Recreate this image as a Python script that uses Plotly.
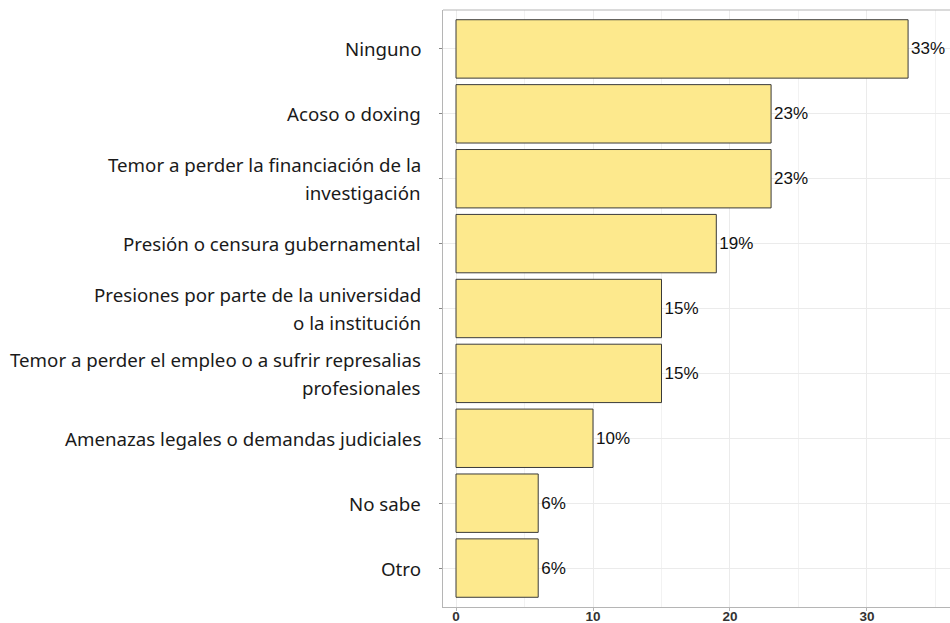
import plotly.graph_objects as go

categories = [
    "Ninguno",
    "Acoso o doxing",
    "Temor a perder la financiación de la investigación",
    "Presión o censura gubernamental",
    "Presiones por parte de la universidad o la institución",
    "Temor a perder el empleo o a sufrir represalias profesionales",
    "Amenazas legales o demandas judiciales",
    "No sabe",
    "Otro",
]
# wrapped display lines for each category label
label_lines = [
    ["Ninguno"],
    ["Acoso o doxing"],
    ["Temor a perder la financiación de la", "investigación"],
    ["Presión o censura gubernamental"],
    ["Presiones por parte de la universidad", "o la institución"],
    ["Temor a perder el empleo o a sufrir represalias", "profesionales"],
    ["Amenazas legales o demandas judiciales"],
    ["No sabe"],
    ["Otro"],
]
values = [33, 23, 23, 19, 15, 15, 10, 6, 6]
labels = [f"{v}%" for v in values]
x_ticks = [0, 10, 20, 30]

fig = go.Figure(
    go.Bar(
        x=values,
        y=categories,
        orientation="h",
        width=0.9,
        marker=dict(color="#FDE98D", line=dict(color="#3a3a3a", width=1)),
        text=labels,
        textposition="outside",
        textfont=dict(family="Liberation Sans", size=17, color="#111"),
        cliponaxis=False,
        hoverinfo="skip",
    )
)

fig.update_layout(
    width=950,
    height=623,
    margin=dict(l=443, r=0, t=10, b=16),
    paper_bgcolor="white",
    plot_bgcolor="white",
    showlegend=False,
    bargap=0.1,
)

fig.update_xaxes(
    range=[-0.95, 36.06],
    tickvals=x_ticks,
    ticktext=[str(t) for t in x_ticks],
    showgrid=True,
    gridcolor="#ebebeb",
    gridwidth=1,
    minor=dict(dtick=5, showgrid=True, gridcolor="#f2f2f2", gridwidth=1),
    zeroline=False,
    showline=True,
    linecolor="#b5b5b5",
    linewidth=1.2,
    ticks="outside",
    ticklen=3,
    tickcolor="#b5b5b5",
    automargin=False,
    ticklabelstandoff=-6,
    tickfont=dict(family="Liberation Sans", size=13.5, color="#333", weight="bold"),
)

fig.update_yaxes(
    categoryorder="array",
    categoryarray=categories,
    range=[8.6, -0.6],
    showgrid=True,
    gridcolor="#ebebeb",
    gridwidth=1,
    zeroline=False,
    showline=True,
    linecolor="#b5b5b5",
    linewidth=1.2,
    ticks="outside",
    ticklen=3,
    tickcolor="#888",
    showticklabels=False,
    automargin=False,
)

LINE_GAP = 28
for cat, lines in zip(categories, label_lines):
    n = len(lines)
    for i, line in enumerate(lines):
        offset = ((n - 1) / 2 - i) * LINE_GAP
        fig.add_annotation(
            x=0, xref="paper", y=cat, yref="y",
            text=line, showarrow=False,
            xanchor="right", yanchor="middle",
            xshift=-20, yshift=offset,
            font=dict(family="Noto Sans", size=18.7, color="#1a1a1a"),
        )

fig.add_shape(
    type="line", xref="paper", yref="paper", x0=0, x1=1, y0=1, y1=1,
    line=dict(color="#b5b5b5", width=1.2),
)

fig.write_html("out.html")
